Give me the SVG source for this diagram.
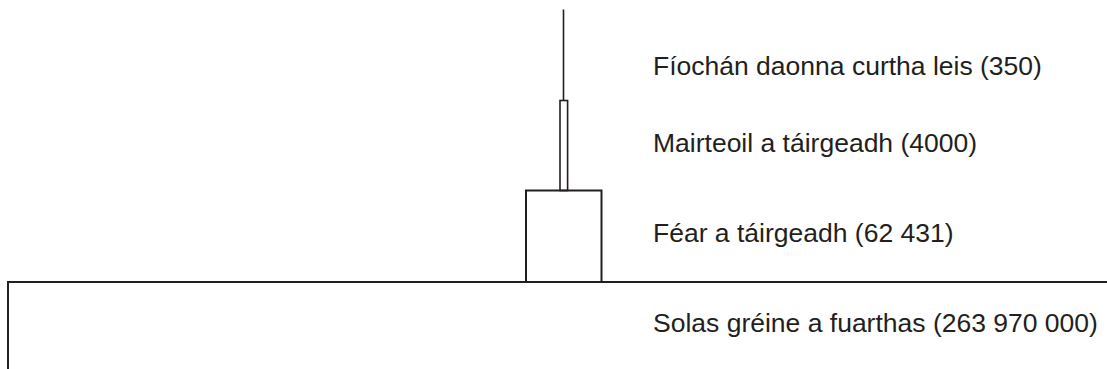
<svg xmlns="http://www.w3.org/2000/svg" width="1107" height="369" viewBox="0 0 1107 369">
  <style>
    .bar { fill: none; stroke: #231f20; stroke-width: 2; }
    .thin { fill: none; stroke: #231f20; stroke-width: 1.6; }
    .lbl { font-family: "Liberation Sans", Arial, sans-serif; font-size: 26.5px; fill: #231f20; }
  </style>
  <rect width="1107" height="369" fill="#ffffff"/>
  <g id="tissue">
    <line class="thin" x1="563.5" y1="9.5" x2="563.5" y2="100.5"/>
    <text class="lbl" x="653" y="75">Fíochán daonna curtha leis (350)</text>
  </g>
  <g id="beef">
    <rect class="thin" x="560" y="100.5" width="7.6" height="90"/>
    <text class="lbl" x="653" y="152">Mairteoil a táirgeadh (4000)</text>
  </g>
  <g id="grass">
    <rect class="bar" x="526" y="190.5" width="75.5" height="91.5"/>
    <text class="lbl" x="653" y="242">Féar a táirgeadh (62 431)</text>
  </g>
  <g id="sunlight">
    <polyline class="bar" points="8,369 8,282 1107,282"/>
    <text class="lbl" x="653" y="332">Solas gréine a fuarthas (263 970 000)</text>
  </g>
  <g id="connectors"></g>
</svg>
